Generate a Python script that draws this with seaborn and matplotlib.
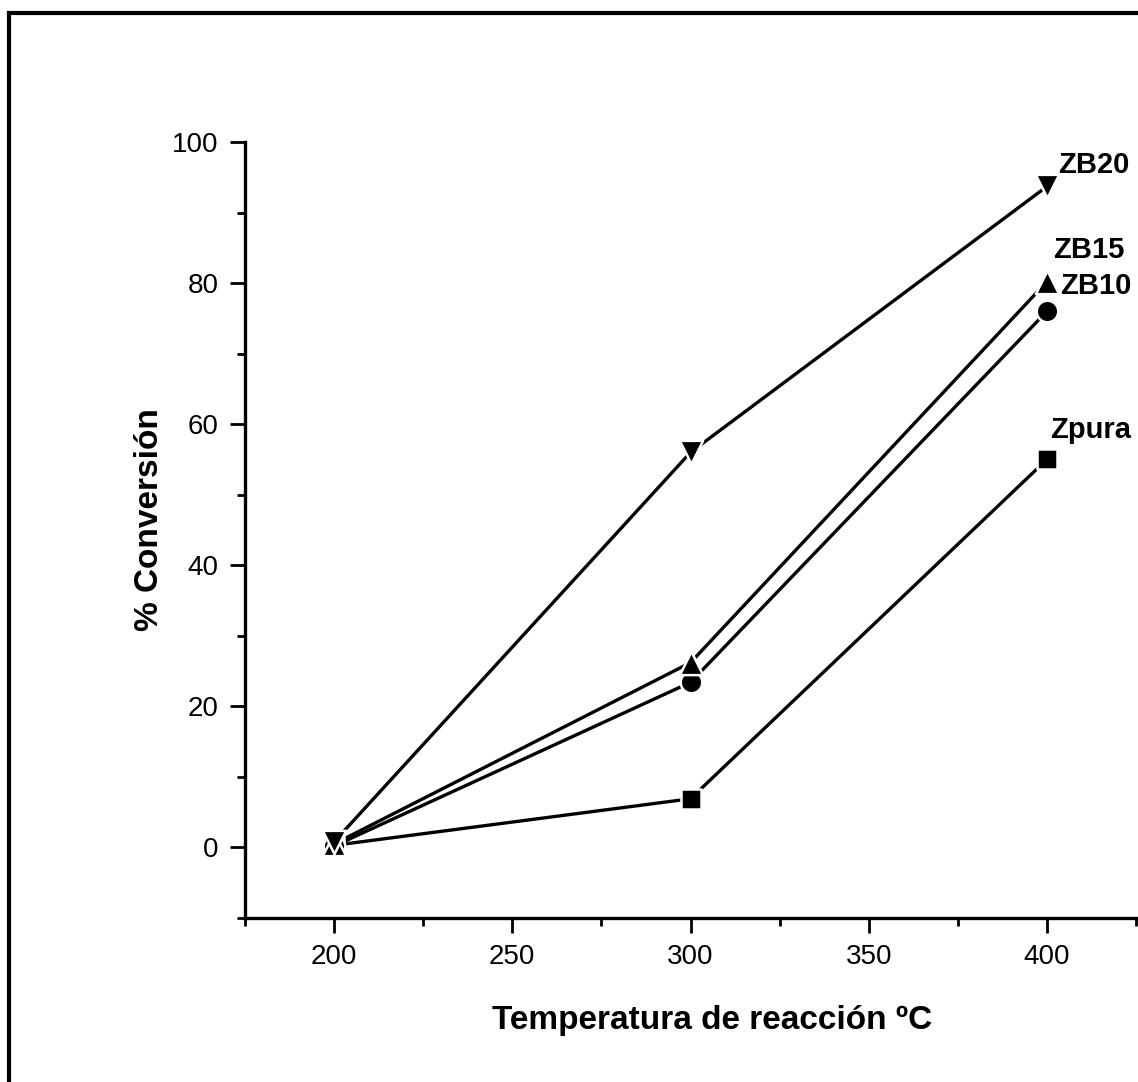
import matplotlib
matplotlib.use("Agg")
import matplotlib.pyplot as plt
import seaborn as sns
import pandas as pd
from matplotlib.ticker import MultipleLocator
from matplotlib.patches import Rectangle

temps = [200, 300, 400]
series_names = ["Zpura", "ZB10", "ZB15", "ZB20"]
zpura = [0.3, 6.9, 55.0]
zb10 = [0.2, 23.4, 76.0]
zb15 = [0.5, 26.2, 80.2]
zb20 = [0.8, 56.0, 93.7]
markers = {"Zpura": "s", "ZB10": "o", "ZB15": "^", "ZB20": "v"}
sizes = {"Zpura": 210, "ZB10": 240, "ZB15": 280, "ZB20": 280}

df = pd.DataFrame({
    "T": temps * 4,
    "conv": zpura + zb10 + zb15 + zb20,
    "serie": sum([[n] * 3 for n in series_names], []),
})

sns.set_theme(style="white")
plt.rcParams["font.family"] = ["Liberation Sans", "DejaVu Sans"]
plt.rcParams["text.color"] = "black"
plt.rcParams["axes.labelcolor"] = "black"

fig = plt.figure(figsize=(11.38, 10.82), dpi=100)
ax = fig.add_axes([245 / 1138, 1 - 918 / 1082, (1136 - 245) / 1138, (918 - 142) / 1082])

sns.lineplot(data=df, x="T", y="conv", hue="serie", palette=["black"] * 4,
             legend=False, ax=ax, linewidth=2.4, zorder=2)
for n in series_names:
    sub = df[df["serie"] == n]
    sns.scatterplot(data=sub, x="T", y="conv", marker=markers[n], color="black",
                    s=sizes[n], edgecolor="white", linewidth=1.8,
                    legend=False, ax=ax, zorder=3)

ax.set_xlim(175, 425)
ax.set_ylim(-10, 100)
ax.xaxis.set_major_locator(MultipleLocator(50))
ax.xaxis.set_minor_locator(MultipleLocator(25))
ax.yaxis.set_major_locator(MultipleLocator(20))
ax.yaxis.set_minor_locator(MultipleLocator(10))
ax.set_yticks([0, 20, 40, 60, 80, 100])

for s in ["top", "right"]:
    ax.spines[s].set_visible(False)
for s in ["left", "bottom"]:
    ax.spines[s].set_linewidth(2.4)
    ax.spines[s].set_color("black")

ax.tick_params(which="major", direction="out", length=11, width=2, labelsize=20,
               colors="black", pad=8, bottom=True, left=True)
ax.tick_params(which="minor", direction="out", length=6, width=2, colors="black",
               bottom=True, left=True)

ax.set_xlabel("Temperatura de reacción ºC", fontsize=24, fontweight="bold", color="black")
ax.set_ylabel("% Conversión", fontsize=24, fontweight="bold", color="black")
ax.xaxis.set_label_coords((712 - 245) / (1136 - 245), -(1005 - 918) / (918 - 142))
ax.yaxis.set_label_coords(-(245 - 165) / (1136 - 245), (918 - 520) / (918 - 142))

label_pos = {"ZB20": (1058, 165), "ZB15": (1053, 250), "ZB10": (1060, 286), "Zpura": (1050, 430)}
for n, (px, py) in label_pos.items():
    fig.text(px / 1138, 1 - py / 1082, n, fontsize=21, fontweight="bold",
             ha="left", va="center", color="black")

fig.patches.append(Rectangle((9 / 1138, -0.1), 1.2, 1 - 13 / 1082 + 0.1,
                             transform=fig.transFigure, fill=False,
                             edgecolor="black", linewidth=3))

fig.savefig("out.png", dpi=100, facecolor="white")
